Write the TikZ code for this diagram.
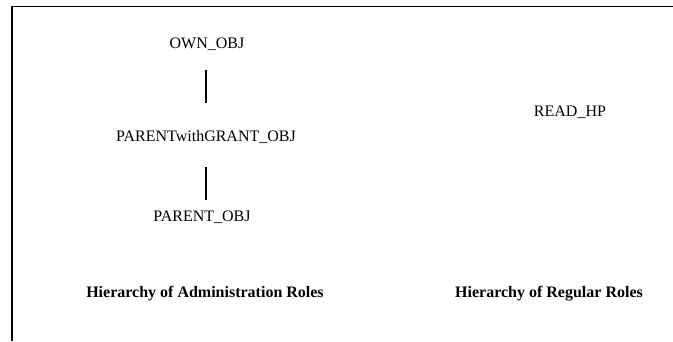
\documentclass[tikz,border=0pt]{standalone}
\usepackage{fontspec}
\setmainfont{Liberation Serif}
\usetikzlibrary{positioning}

\begin{document}
\begin{tikzpicture}[
  x=1pt, y=-1pt,
  font=\fontsize{16}{19}\selectfont,
  every node/.style={align=center},
  role/.style   = {anchor=base, inner sep=0pt, text height=11pt, text depth=3pt},
  title/.style  = {role, font=\fontsize{16}{19}\selectfont\bfseries},
  link/.style   = {line width=1.8pt},
  frame/.style  = {line width=1.8pt},
]
\useasboundingbox (0,0) rectangle (673,341);
\draw[frame] (673,6.5) -| (12,341);

\node[role]  (own)   at (207,48)  {OWN\_OBJ};
\node[role]  (pwg)   at (206,141) {PARENTwithGRANT\_OBJ};
\node[role]  (par)   at (202,221) {PARENT\_OBJ};
\node[role]  (read)  at (570,116) {READ\_HP};
\node[title] (admin) at (205,297) {Hierarchy of Administration Roles};
\node[title] (reg)   at (549,297) {Hierarchy of Regular Roles};

\draw[link,shorten <=19pt,shorten >=27pt] (own.south -| pwg) -- (pwg.north);
\draw[link,shorten <=23pt,shorten >=10pt] (pwg.south) -- (pwg.south |- par.north);
\end{tikzpicture}
\end{document}
